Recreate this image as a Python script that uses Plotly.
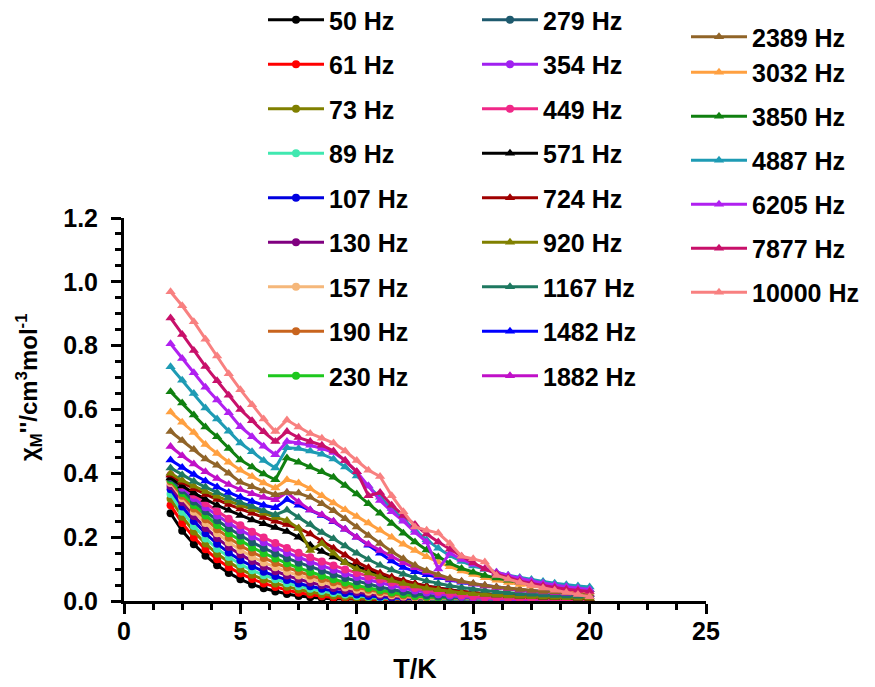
import plotly.graph_objects as go

T = [2.0, 2.5, 3.0, 3.5, 4.0, 4.5, 5.0, 5.5, 6.0, 6.5,
     7.0, 7.5, 8.0, 8.5, 9.0, 9.5, 10.0, 10.5, 11.0, 11.5,
     12.0, 12.5, 13.0, 13.5, 14.0, 14.5, 15.0, 15.5, 16.0, 16.5,
     17.0, 17.5, 18.0, 18.5, 19.0, 19.5, 20.0]

freqs = ["50 Hz", "61 Hz", "73 Hz", "89 Hz", "107 Hz", "130 Hz", "157 Hz", "190 Hz", "230 Hz",
         "279 Hz", "354 Hz", "449 Hz", "571 Hz", "724 Hz", "920 Hz", "1167 Hz", "1482 Hz", "1882 Hz",
         "2389 Hz", "3032 Hz", "3850 Hz", "4887 Hz", "6205 Hz", "7877 Hz", "10000 Hz"]

colors = ["#000000", "#FF0000", "#808000", "#40E8B0", "#0000E0", "#800080", "#F5B77A", "#C8641E", "#1EC81E",
          "#1E5A6E", "#A020F0", "#F02888", "#000000", "#A00000", "#808000", "#1E7860", "#0000FF", "#C010C8",
          "#906428", "#FFA040", "#108010", "#1E9BB4", "#B020F0", "#C8106A", "#F88080"]

chi_50 = [0.275, 0.220, 0.178, 0.142, 0.112, 0.088, 0.068, 0.052, 0.040, 0.030,
          0.022, 0.016, 0.012, 0.009, 0.007, 0.006, 0.005, 0.005, 0.004, 0.004,
          0.004, 0.003, 0.004, 0.003, 0.003, 0.004, 0.003, 0.003, 0.004, 0.003,
          0.003, 0.004, 0.003, 0.003, 0.004, 0.003, 0.003]
chi_61 = [0.300, 0.244, 0.199, 0.162, 0.131, 0.106, 0.086, 0.069, 0.055, 0.044,
          0.034, 0.026, 0.020, 0.015, 0.011, 0.009, 0.007, 0.006, 0.005, 0.005,
          0.004, 0.005, 0.004, 0.004, 0.005, 0.004, 0.004, 0.005, 0.004, 0.004,
          0.005, 0.004, 0.004, 0.005, 0.004, 0.004, 0.004]
chi_73 = [0.320, 0.264, 0.218, 0.180, 0.148, 0.122, 0.100, 0.082, 0.067, 0.055,
          0.045, 0.036, 0.028, 0.022, 0.017, 0.013, 0.010, 0.008, 0.007, 0.006,
          0.005, 0.006, 0.005, 0.005, 0.006, 0.005, 0.005, 0.006, 0.005, 0.005,
          0.006, 0.005, 0.005, 0.006, 0.005, 0.005, 0.005]
chi_89 = [0.335, 0.280, 0.235, 0.196, 0.164, 0.138, 0.115, 0.096, 0.081, 0.068,
          0.056, 0.046, 0.038, 0.031, 0.025, 0.020, 0.016, 0.013, 0.010, 0.008,
          0.007, 0.006, 0.007, 0.006, 0.006, 0.007, 0.006, 0.006, 0.007, 0.006,
          0.006, 0.007, 0.006, 0.006, 0.007, 0.006, 0.006]
chi_107 = [0.350, 0.296, 0.251, 0.212, 0.179, 0.152, 0.128, 0.109, 0.092, 0.078,
           0.066, 0.055, 0.046, 0.038, 0.031, 0.025, 0.020, 0.016, 0.013, 0.010,
           0.008, 0.007, 0.007, 0.008, 0.007, 0.007, 0.008, 0.007, 0.007, 0.008,
           0.007, 0.007, 0.008, 0.007, 0.007, 0.008, 0.007]
chi_130 = [0.360, 0.310, 0.266, 0.229, 0.197, 0.169, 0.146, 0.125, 0.108, 0.093,
           0.080, 0.068, 0.058, 0.049, 0.041, 0.034, 0.028, 0.023, 0.018, 0.014,
           0.011, 0.009, 0.008, 0.008, 0.009, 0.008, 0.008, 0.009, 0.008, 0.008,
           0.009, 0.008, 0.008, 0.009, 0.008, 0.008, 0.008]
chi_157 = [0.370, 0.322, 0.280, 0.244, 0.212, 0.184, 0.160, 0.139, 0.121, 0.106,
           0.092, 0.080, 0.069, 0.059, 0.050, 0.042, 0.035, 0.029, 0.023, 0.018,
           0.014, 0.011, 0.009, 0.009, 0.010, 0.009, 0.009, 0.010, 0.009, 0.009,
           0.010, 0.009, 0.009, 0.010, 0.009, 0.009, 0.009]
chi_190 = [0.375, 0.330, 0.290, 0.256, 0.225, 0.198, 0.174, 0.153, 0.135, 0.119,
           0.105, 0.092, 0.080, 0.069, 0.059, 0.050, 0.042, 0.035, 0.028, 0.022,
           0.017, 0.013, 0.011, 0.010, 0.011, 0.010, 0.010, 0.011, 0.010, 0.010,
           0.011, 0.010, 0.010, 0.011, 0.010, 0.010, 0.010]
chi_230 = [0.380, 0.338, 0.301, 0.268, 0.238, 0.212, 0.189, 0.168, 0.150, 0.133,
           0.118, 0.104, 0.091, 0.079, 0.068, 0.058, 0.049, 0.041, 0.034, 0.027,
           0.021, 0.016, 0.013, 0.011, 0.010, 0.011, 0.010, 0.010, 0.011, 0.010,
           0.010, 0.011, 0.010, 0.010, 0.011, 0.010, 0.010]
chi_279 = [0.385, 0.347, 0.312, 0.281, 0.253, 0.228, 0.205, 0.184, 0.166, 0.149,
           0.134, 0.120, 0.107, 0.095, 0.083, 0.072, 0.062, 0.053, 0.044, 0.036,
           0.029, 0.023, 0.018, 0.014, 0.012, 0.011, 0.010, 0.011, 0.010, 0.010,
           0.011, 0.010, 0.010, 0.011, 0.010, 0.010, 0.010]
chi_354 = [0.390, 0.355, 0.323, 0.294, 0.268, 0.244, 0.222, 0.202, 0.184, 0.167,
           0.151, 0.137, 0.123, 0.110, 0.098, 0.086, 0.075, 0.066, 0.057, 0.048,
           0.040, 0.033, 0.027, 0.021, 0.017, 0.013, 0.010, 0.008, 0.006, 0.005,
           0.004, 0.003, 0.004, 0.003, 0.002, 0.003, 0.002]
chi_449 = [0.395, 0.363, 0.333, 0.306, 0.281, 0.258, 0.237, 0.217, 0.199, 0.182,
           0.166, 0.151, 0.137, 0.124, 0.111, 0.099, 0.088, 0.077, 0.067, 0.058,
           0.049, 0.041, 0.034, 0.028, 0.022, 0.018, 0.014, 0.011, 0.009, 0.008,
           0.007, 0.006, 0.006, 0.005, 0.005, 0.005, 0.004]
chi_571 = [0.385, 0.360, 0.338, 0.318, 0.300, 0.284, 0.268, 0.254, 0.242, 0.230,
           0.218, 0.200, 0.175, 0.155, 0.138, 0.122, 0.108, 0.095, 0.083, 0.072,
           0.062, 0.053, 0.046, 0.040, 0.034, 0.030, 0.026, 0.022, 0.019, 0.017,
           0.015, 0.013, 0.012, 0.011, 0.010, 0.009, 0.008]
chi_724 = [0.395, 0.372, 0.352, 0.334, 0.318, 0.302, 0.288, 0.275, 0.262, 0.250,
           0.240, 0.228, 0.210, 0.188, 0.165, 0.143, 0.122, 0.104, 0.088, 0.075,
           0.064, 0.055, 0.047, 0.040, 0.034, 0.030, 0.026, 0.023, 0.020, 0.018,
           0.016, 0.014, 0.013, 0.012, 0.011, 0.010, 0.009]
chi_920 = [0.400, 0.378, 0.360, 0.343, 0.328, 0.313, 0.300, 0.287, 0.275, 0.262,
           0.252, 0.228, 0.158, 0.180, 0.150, 0.120, 0.100, 0.088, 0.075, 0.064,
           0.055, 0.047, 0.040, 0.035, 0.030, 0.026, 0.023, 0.020, 0.018, 0.016,
           0.014, 0.013, 0.012, 0.011, 0.010, 0.009, 0.009]
chi_1167 = [0.417, 0.395, 0.375, 0.357, 0.340, 0.324, 0.309, 0.296, 0.283, 0.270,
            0.285, 0.262, 0.240, 0.215, 0.195, 0.172, 0.150, 0.130, 0.112, 0.097,
            0.084, 0.073, 0.063, 0.055, 0.048, 0.042, 0.037, 0.033, 0.029, 0.026,
            0.023, 0.021, 0.019, 0.017, 0.016, 0.015, 0.014]
chi_1482 = [0.442, 0.418, 0.396, 0.376, 0.357, 0.340, 0.325, 0.312, 0.300, 0.292,
            0.318, 0.300, 0.285, 0.268, 0.248, 0.225, 0.200, 0.175, 0.150, 0.125,
            0.105, 0.092, 0.082, 0.074, 0.066, 0.059, 0.053, 0.048, 0.043, 0.039,
            0.035, 0.032, 0.029, 0.027, 0.025, 0.023, 0.021]
chi_1882 = [0.484, 0.455, 0.429, 0.405, 0.384, 0.365, 0.349, 0.336, 0.325, 0.317,
            0.340, 0.310, 0.285, 0.270, 0.250, 0.225, 0.200, 0.178, 0.158, 0.138,
            0.120, 0.104, 0.090, 0.078, 0.068, 0.060, 0.053, 0.047, 0.042, 0.038,
            0.034, 0.031, 0.028, 0.026, 0.024, 0.022, 0.020]
chi_2389 = [0.531, 0.503, 0.475, 0.445, 0.425, 0.400, 0.372, 0.358, 0.345, 0.333,
            0.340, 0.338, 0.325, 0.305, 0.283, 0.258, 0.232, 0.205, 0.180, 0.155,
            0.132, 0.112, 0.095, 0.082, 0.071, 0.062, 0.055, 0.049, 0.044, 0.040,
            0.036, 0.033, 0.030, 0.028, 0.026, 0.024, 0.022]
chi_3032 = [0.592, 0.560, 0.528, 0.490, 0.462, 0.435, 0.410, 0.390, 0.370, 0.354,
            0.380, 0.370, 0.352, 0.330, 0.307, 0.286, 0.265, 0.244, 0.222, 0.200,
            0.178, 0.158, 0.139, 0.122, 0.107, 0.094, 0.083, 0.073, 0.065, 0.058,
            0.052, 0.047, 0.042, 0.038, 0.034, 0.031, 0.028]
chi_3850 = [0.656, 0.620, 0.583, 0.545, 0.515, 0.478, 0.442, 0.420, 0.398, 0.380,
            0.448, 0.435, 0.420, 0.405, 0.388, 0.362, 0.335, 0.305, 0.275, 0.243,
            0.212, 0.185, 0.160, 0.138, 0.118, 0.102, 0.090, 0.080, 0.072, 0.065,
            0.059, 0.054, 0.049, 0.045, 0.041, 0.038, 0.035]
chi_4887 = [0.734, 0.692, 0.650, 0.605, 0.570, 0.532, 0.495, 0.468, 0.440, 0.417,
            0.480, 0.478, 0.470, 0.460, 0.445, 0.420, 0.392, 0.360, 0.325, 0.290,
            0.255, 0.222, 0.192, 0.165, 0.142, 0.124, 0.110, 0.099, 0.090, 0.081,
            0.074, 0.067, 0.061, 0.056, 0.051, 0.047, 0.044]
chi_6205 = [0.806, 0.760, 0.715, 0.670, 0.630, 0.590, 0.546, 0.515, 0.485, 0.458,
            0.500, 0.495, 0.488, 0.478, 0.465, 0.440, 0.405, 0.360, 0.315, 0.280,
            0.250, 0.215, 0.185, 0.100, 0.150, 0.130, 0.115, 0.102, 0.090, 0.080,
            0.071, 0.063, 0.056, 0.050, 0.045, 0.040, 0.036]
chi_7877 = [0.887, 0.835, 0.785, 0.735, 0.690, 0.645, 0.600, 0.565, 0.530, 0.500,
            0.531, 0.512, 0.500, 0.488, 0.470, 0.440, 0.405, 0.330, 0.340, 0.300,
            0.268, 0.240, 0.210, 0.185, 0.162, 0.140, 0.120, 0.100, 0.085, 0.073,
            0.063, 0.055, 0.048, 0.042, 0.037, 0.033, 0.030]
chi_10000 = [0.969, 0.925, 0.875, 0.820, 0.768, 0.712, 0.662, 0.615, 0.570, 0.531,
             0.567, 0.545, 0.525, 0.510, 0.495, 0.470, 0.440, 0.410, 0.390, 0.330,
             0.280, 0.232, 0.222, 0.213, 0.180, 0.140, 0.132, 0.122, 0.080, 0.068,
             0.058, 0.049, 0.041, 0.034, 0.027, 0.020, 0.013]

series = [chi_50, chi_61, chi_73, chi_89, chi_107, chi_130, chi_157, chi_190, chi_230,
          chi_279, chi_354, chi_449, chi_571, chi_724, chi_920, chi_1167, chi_1482, chi_1882,
          chi_2389, chi_3032, chi_3850, chi_4887, chi_6205, chi_7877, chi_10000]

FONT = "Arial, 'Liberation Sans', sans-serif"

# plot area in figure pixels (page adds an 8 px body margin)
PL, PR, PT, PB = 116, 698, 210, 593


def px_x(px):
    return (px - PL) / (PR - PL)


def px_y(py):
    return (PB - py) / (PB - PT)


fig = go.Figure()
for i, (name, ys, col) in enumerate(zip(freqs, series, colors)):
    if i < 9:
        leg, grp = "legend", "g%d" % i
    elif i < 18:
        leg, grp = "legend2", "g%d" % i
    else:
        leg = "legend3"
        grp = "g18" if i in (18, 19) else "g%d" % i
    sym = "circle" if i < 12 else "triangle-up"
    fig.add_trace(go.Scatter(
        x=T, y=ys, name=name, mode="lines+markers",
        line=dict(color=col, width=3),
        marker=dict(symbol=sym, size=8 if sym == "circle" else 9, color=col, line=dict(width=0)),
        legend=leg, legendgroup=grp,
    ))

legfont = dict(family=FONT, size=25, color="black", weight="bold")
common = dict(xref="paper", yref="paper", xanchor="left", yanchor="top",
              bgcolor="rgba(0,0,0,0)", font=legfont, itemwidth=56, maxheight=650)

fig.update_layout(
    width=875, height=687,
    paper_bgcolor="white", plot_bgcolor="white",
    margin=dict(l=PL, r=875 - PR, t=PT, b=687 - PB, autoexpand=False),
    font=dict(family=FONT, size=24, color="black", weight="bold"),
    showlegend=True,
    legend=dict(x=px_x(255), y=px_y(-11), tracegroupgap=9, **common),
    legend2=dict(x=px_x(469), y=px_y(-11), tracegroupgap=9, **common),
    legend3=dict(x=px_x(678), y=px_y(6), tracegroupgap=8.5, **common),
    xaxis=dict(
        range=[0, 25], dtick=5, tick0=0,
        showline=True, linecolor="black", linewidth=3, mirror=False,
        ticks="outside", ticklen=10, tickwidth=3, tickcolor="black",
        minor=dict(dtick=1.25, ticks="outside", ticklen=6, tickwidth=3, tickcolor="black"),
        showgrid=False, zeroline=False, ticklabelstandoff=-4,
        tickfont=dict(family=FONT, size=25, color="black", weight="bold"),
        title=dict(text="T/K", font=dict(family=FONT, size=27, color="black", weight="bold"), standoff=16),
    ),
    yaxis=dict(
        range=[0, 1.2], dtick=0.2, tick0=0, tickformat=".1f",
        showline=True, linecolor="black", linewidth=3, mirror=False,
        ticks="outside", ticklen=10, tickwidth=3, tickcolor="black",
        minor=dict(dtick=0.05, ticks="outside", ticklen=6, tickwidth=3, tickcolor="black"),
        showgrid=False, zeroline=False, ticklabelstandoff=8,
        tickfont=dict(family=FONT, size=25, color="black", weight="bold"),
    ),
    annotations=[dict(
        text="χ<sub>M</sub>''/cm<sup>3</sup>mol<sup>-1</sup>",
        xref="paper", yref="paper", x=px_x(21), y=px_y(379),
        xanchor="center", yanchor="middle", textangle=-90, showarrow=False,
        font=dict(family=FONT, size=24, color="black", weight="bold"),
    )],
)

fig.write_html("out.html")
